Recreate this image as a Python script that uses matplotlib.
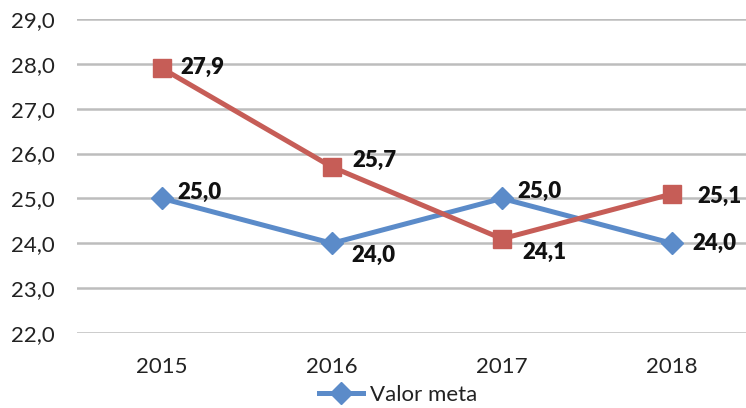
import matplotlib.pyplot as plt
import numpy as np

years = ["2015", "2016", "2017", "2018"]
valor_meta = [25.0, 24.0, 25.0, 24.0]
valor_real = [27.9, 25.7, 24.1, 25.1]
y_ticks = [22, 23, 24, 25, 26, 27, 28, 29]

plt.rcParams["font.family"] = ["Lato", "DejaVu Sans"]
fontsize = 16

fig = plt.figure(figsize=(7.46, 4.08), dpi=100)
# plot area runs past the right edge of the figure
ax = fig.add_axes([77 / 746, 75 / 408, 680 / 746, 314 / 408])

x = np.arange(len(years))
ax.plot(x, valor_meta, color="#5B8BC9", lw=3.6, marker="D", ms=11,
        label="Valor meta", zorder=3)
ax.plot(x, valor_real, color="#C65D57", lw=3.6, marker="s", ms=13,
        label="_nolegend_", zorder=4)

# data labels (offset in points)
def fmt(v):
    return ("%.1f" % v).replace(".", ",")

meta_off = [(11, 4), (14, -9), (11, 5), (15, 0)]
real_off = [(13, 1), (15, 5), (15, -10), (18, -2)]
for i, v in enumerate(valor_meta):
    ax.annotate(fmt(v), (x[i], v), xytext=meta_off[i], textcoords="offset points",
                fontsize=fontsize, fontweight="heavy", va="center", ha="left",
                color="#111111")
for i, v in enumerate(valor_real):
    ax.annotate(fmt(v), (x[i], v), xytext=real_off[i], textcoords="offset points",
                fontsize=fontsize, fontweight="heavy", va="center", ha="left",
                color="#111111")

ax.set_xlim(-0.5, len(years) - 0.5)
ax.set_ylim(22, 29)
ax.set_yticks(y_ticks)
ax.set_yticklabels([fmt(t) for t in y_ticks], fontsize=fontsize, color="#222222")
ax.set_xticks(x)
ax.set_xticklabels(years, fontsize=fontsize, color="#222222")
ax.tick_params(length=0)
ax.tick_params(axis="y", pad=16)
ax.tick_params(axis="x", pad=17)
ax.yaxis.grid(True, color="#BDBDBD", lw=1.8)
ax.set_axisbelow(True)
for s in ax.spines.values():
    s.set_visible(False)

fig.legend(loc="center left", bbox_to_anchor=(310 / 746, 13 / 408), frameon=False,
           fontsize=fontsize, handlelength=2.0, handletextpad=0.3, borderaxespad=0,
           labelcolor="#222222")

plt.savefig("out.png", dpi=100)
